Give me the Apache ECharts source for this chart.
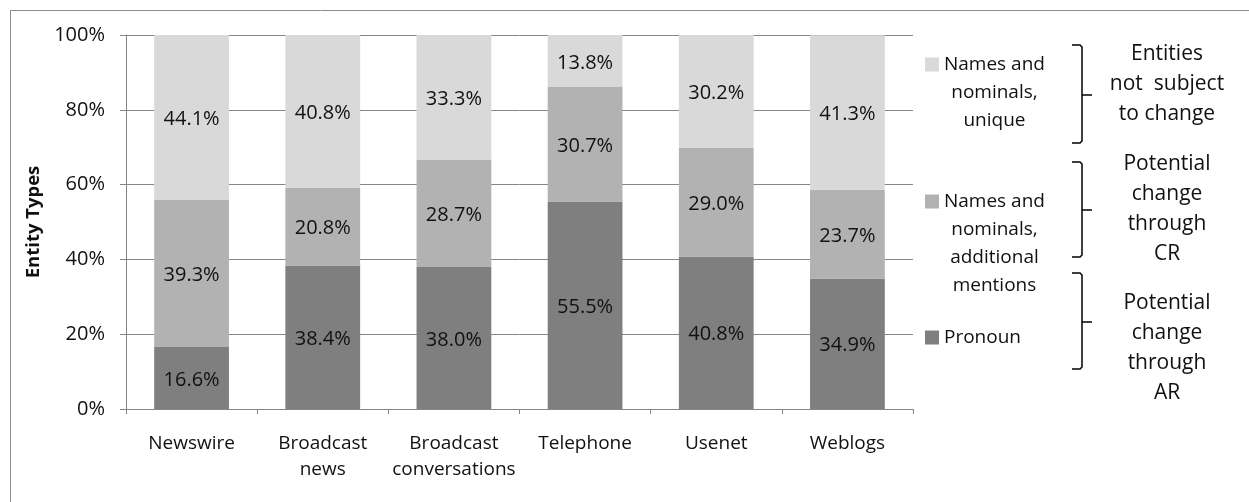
<!DOCTYPE html>
<html>
<head>
<meta charset="utf-8">
<script src="https://cdn.jsdelivr.net/npm/echarts@6/dist/echarts.min.js"></script>
<style>
html,body{margin:0;padding:0;background:#fff;}
#chart{width:1249px;height:502px;}
</style>
</head>
<body>
<div id="chart"></div>
<script>
const categories = ['Newswire', 'Broadcast\nnews', 'Broadcast\nconversations', 'Telephone', 'Usenet', 'Weblogs'];
const seriesNames = ['Pronoun', 'Names and nominals, additional mentions', 'Names and nominals, unique'];
const pronoun = [16.6, 38.4, 38.0, 55.5, 40.8, 34.9];
const additional = [39.3, 20.8, 28.7, 30.7, 29.0, 23.7];
const unique = [44.1, 40.8, 33.3, 13.8, 30.2, 41.3];
const yTicks = [0, 20, 40, 60, 80, 100];
const legendLines = [
  ['Names and', 'nominals,', 'unique'],
  ['Names and', 'nominals,', 'additional', 'mentions'],
  ['Pronoun']
];
const bracketTexts = [
  ['Entities', 'not  subject', 'to change'],
  ['Potential', 'change', 'through', 'CR'],
  ['Potential', 'change', 'through', 'AR']
];
const yAxisTitle = 'Entity Types';

const FONT = "'Open Sans', 'Noto Sans', sans-serif";
const TXT = '#111';
const colors = ['#7f7f7f', '#b2b2b2', '#d9d9d9'];
const values = [pronoun, additional, unique];

const chart = echarts.init(document.getElementById('chart'));

const series = seriesNames.map((name, i) => ({
  name: name,
  type: 'bar',
  stack: 'total',
  barCategoryGap: '43%',
  data: values[i],
  itemStyle: { color: colors[i] },
  label: {
    show: true,
    position: 'inside',
    offset: [0, 2],
    formatter: p => p.value.toFixed(1) + '%',
    color: TXT,
    fontFamily: FONT,
    fontSize: 20
  },
  emphasis: { disabled: true }
}));

function richLines(lines) {
  return lines.map(l => '{c|' + l + '}').join('\n');
}

const legendCfg = [
  { name: seriesNames[2], lines: legendLines[0], iconY: 63 },
  { name: seriesNames[1], lines: legendLines[1], iconY: 200 },
  { name: seriesNames[0], lines: legendLines[2], iconY: 336 }
];
const LH = 28;
const legends = legendCfg.map(cfg => {
  const n = cfg.lines.length;
  const padTop = (n - 1) * LH;
  return {
    data: [cfg.name],
    left: 925,
    top: cfg.iconY - 8,
    orient: 'vertical',
    padding: 0,
    itemWidth: 14,
    itemHeight: 14,
    icon: 'rect',
    selectedMode: false,
    formatter: () => richLines(cfg.lines),
    textStyle: {
      padding: [padTop, 0, 0, 0],
      rich: {
        c: { align: 'center', fontSize: 19, lineHeight: LH, fontFamily: FONT, color: TXT }
      }
    }
  };
});

const brackets = [
  { top: 45, mid: 95, bottom: 143, textY: 82 },
  { top: 162, mid: 210, bottom: 257, textY: 207 },
  { top: 273, mid: 322, bottom: 369, textY: 346 }
];
const graphics = [
  {
    type: 'rect',
    shape: { x: 10.5, y: 10.5, width: 1300, height: 600 },
    style: { fill: 'none', stroke: '#8c8c8c', lineWidth: 1 },
    silent: true
  }
];
brackets.forEach((b, i) => {
  graphics.push({
    type: 'polyline',
    shape: { points: [[1072, b.top], [1080, b.top], [1082, b.top + 2], [1082, b.bottom - 2], [1080, b.bottom], [1072, b.bottom]] },
    style: { stroke: '#000', lineWidth: 1.5, fill: 'none' },
    silent: true
  });
  graphics.push({
    type: 'polyline',
    shape: { points: [[1082, b.mid], [1092, b.mid]] },
    style: { stroke: '#000', lineWidth: 1.5, fill: 'none' },
    silent: true
  });
  graphics.push({
    type: 'text',
    style: {
      text: bracketTexts[i].join('\n'),
      x: 1167,
      y: b.textY + 2,
      align: 'center',
      verticalAlign: 'middle',
      textAlign: 'center',
      textVerticalAlign: 'middle',
      fontFamily: FONT,
      fontSize: 21,
      lineHeight: 30,
      fill: TXT
    },
    silent: true
  });
});

chart.setOption({
  animation: false,
  backgroundColor: '#fff',
  textStyle: { fontFamily: FONT },
  grid: { left: 126, right: 336, top: 35, bottom: 93, containLabel: false },
  xAxis: {
    type: 'category',
    data: categories,
    axisLine: { show: true, lineStyle: { color: '#868686', width: 1 } },
    axisTick: { show: true, length: 5, lineStyle: { color: '#868686' } },
    axisLabel: { color: TXT, fontFamily: FONT, fontSize: 19, lineHeight: 26, margin: 22, interval: 0 }
  },
  yAxis: {
    type: 'value',
    min: yTicks[0],
    max: yTicks[yTicks.length - 1],
    interval: yTicks[1] - yTicks[0],
    name: yAxisTitle,
    nameLocation: 'middle',
    nameRotate: 90,
    nameGap: 78,
    nameTextStyle: { color: TXT, fontFamily: FONT, fontWeight: 'bold', fontSize: 18.5 },
    axisLine: { show: true, lineStyle: { color: '#868686', width: 1 } },
    axisTick: { show: true, length: 6, lineStyle: { color: '#868686' } },
    axisLabel: { color: TXT, fontFamily: FONT, fontSize: 20, margin: 21, formatter: '{value}%' },
    splitLine: { show: true, lineStyle: { color: '#868686', width: 1 } }
  },
  legend: legends,
  series: series,
  graphic: graphics
});
</script>
</body>
</html>
